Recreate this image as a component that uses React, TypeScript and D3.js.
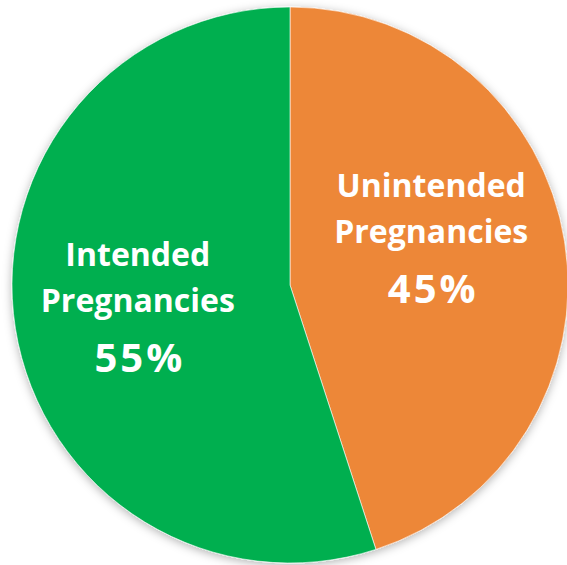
import React from "react";
import * as d3 from "d3";

const categories = ["Unintended Pregnancies", "Intended Pregnancies"];
const labelLines = [["Unintended", "Pregnancies"], ["Intended", "Pregnancies"]];
const values = [45, 55];
const colors = ["#ED8739", "#00AF50"];
const labelDy = [-28, -5];
const labelDx = [-2, -9];

const W = 567;
const H = 565;
const cx = 290;
const cy = 285;
const R = 278;

export default function App() {
  const pie = d3.pie<number>().sort(null).value((d) => d)(values);
  const arc = d3.arc<d3.PieArcDatum<number>>().innerRadius(0).outerRadius(R);
  const labelArc = d3.arc<d3.PieArcDatum<number>>().innerRadius(145).outerRadius(145);
  const total = d3.sum(values);
  return (
    <svg width={W} height={H} style={{ position: "absolute", left: 0, top: 0 }}>
      <defs>
        <filter id="sh" x="-20%" y="-20%" width="140%" height="140%">
          <feDropShadow dx="0" dy="2" stdDeviation="5" floodColor="#000" floodOpacity="0.3" />
        </filter>
      </defs>
      <g transform={`translate(${cx},${cy})`}>
        <g filter="url(#sh)">
          {pie.map((p, i) => (
            <path key={categories[i]} d={arc(p) || ""} fill={colors[i]} stroke="#fff" strokeWidth={0.6} />
          ))}
        </g>
        {pie.map((p, i) => {
          const [x, y] = labelArc.centroid(p);
          const lx = x + labelDx[i];
          const ly = y + labelDy[i];
          const pct = Math.round((values[i] / total) * 100) + "%";
          return (
            <g key={"l" + i} transform={`translate(${lx},${ly})`} fill="#fff" fontFamily="'Open Sans', sans-serif" fontWeight="bold" textAnchor="middle">
              <text y={-37} fontSize={32}>{labelLines[i][0]}</text>
              <text y={9} fontSize={32}>{labelLines[i][1]}</text>
              <text y={69} x={2} fontSize={40} letterSpacing={3}>{pct}</text>
            </g>
          );
        })}
      </g>
    </svg>
  );
}
